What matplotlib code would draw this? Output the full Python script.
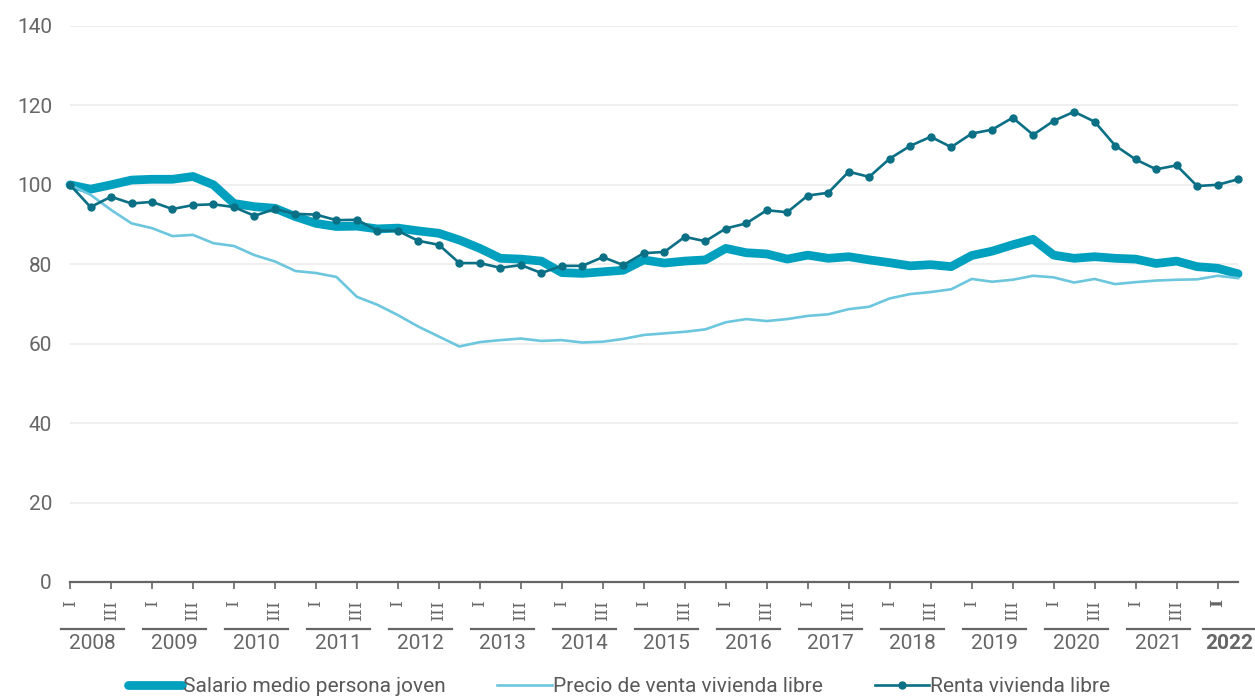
# %%
import matplotlib
matplotlib.use("Agg")
import matplotlib.pyplot as plt
import numpy as np

# quarterly series, 2008-I .. 2022-II (base 2008-I = 100)
years = list(range(2008, 2023))
quarter_labels = ["I", "III"]

salario = [100.0, 98.9, 100.0, 101.2, 101.4, 101.4, 102.1, 100.0, 95.3, 94.5,
           94.1, 92.0, 90.3, 89.5, 89.6, 88.9, 89.1, 88.4, 87.8, 86.1,
           84.0, 81.5, 81.3, 80.8, 77.9, 77.7, 78.1, 78.5, 81.1, 80.3,
           80.8, 81.1, 84.0, 82.9, 82.6, 81.3, 82.3, 81.5, 81.9, 81.1,
           80.4, 79.6, 79.9, 79.4, 82.2, 83.3, 84.9, 86.3, 82.3, 81.5,
           81.9, 81.5, 81.3, 80.2, 80.8, 79.4, 79.0, 77.6]

precio = [100.0, 97.5, 93.7, 90.3, 89.1, 87.1, 87.4, 85.3, 84.6, 82.3,
          80.7, 78.3, 77.8, 76.8, 71.8, 69.8, 67.2, 64.3, 61.8, 59.3,
          60.4, 60.9, 61.3, 60.7, 60.9, 60.3, 60.5, 61.2, 62.2, 62.6,
          63.0, 63.6, 65.4, 66.2, 65.7, 66.2, 67.0, 67.4, 68.7, 69.3,
          71.4, 72.5, 73.0, 73.7, 76.3, 75.6, 76.1, 77.1, 76.7, 75.4,
          76.3, 75.0, 75.5, 75.9, 76.1, 76.2, 77.1, 76.5]

renta = [100.0, 94.4, 97.0, 95.3, 95.7, 93.9, 94.9, 95.1, 94.4, 92.2,
         93.9, 92.7, 92.5, 91.1, 91.2, 88.5, 88.4, 85.9, 84.9, 80.3,
         80.3, 79.1, 79.8, 77.8, 79.6, 79.6, 81.8, 79.8, 82.8, 83.1,
         86.9, 85.8, 89.0, 90.3, 93.6, 93.1, 97.3, 98.0, 103.3, 102.0,
         106.6, 109.8, 112.1, 109.5, 112.9, 113.9, 116.9, 112.6, 116.1, 118.4,
         115.9, 109.9, 106.4, 103.9, 104.9, 99.7, 100.0, 101.4]

names = ["Salario medio persona joven", "Precio de venta vivienda libre",
         "Renta vivienda libre"]

# %%
plt.rcParams["font.family"] = ["Roboto", "DejaVu Sans"]
gray = "#666666"
fs = 15

fig = plt.figure(figsize=(12.55, 6.98), dpi=100)
ax = fig.add_axes([0.0558, 0.1662, 0.9307, 0.7966])

x = np.arange(len(salario))

ax.plot(x, salario, color="#00a0be", lw=6.3, solid_capstyle="round",
        solid_joinstyle="round", clip_on=False, label=names[0], zorder=3)
ax.plot(x, precio, color="#6cc6de", lw=1.9, solid_joinstyle="round",
        clip_on=False, label=names[1], zorder=4)
ax.plot(x, renta, color="#0b7085", lw=1.9, marker="o", ms=5,
        clip_on=False, label=names[2], zorder=5)

ax.set_xlim(0, 57)
ax.set_ylim(0, 140)
ax.set_yticks(range(0, 141, 20))
ax.yaxis.grid(True, color="#efefef", lw=1.5)
ax.set_axisbelow(True)

for s in ["left", "right", "top"]:
    ax.spines[s].set_visible(False)
ax.spines["bottom"].set_color(gray)
ax.spines["bottom"].set_linewidth(1.6)

ax.tick_params(axis="y", length=0, pad=13, labelsize=fs, labelcolor=gray)

# quarter ticks (I and III)
tickPos, tickLab = [], []
for k, yr in enumerate(years):
    for q, lab in zip([0, 2], quarter_labels):
        pos = k * 4 + q
        if pos <= 56:
            tickPos.append(pos)
            tickLab.append(lab)
ax.set_xticks(tickPos)
ax.set_xticklabels(tickLab, rotation=90, va="top", family="DejaVu Serif")
ax.tick_params(axis="x", length=5, width=1.2, color=gray, pad=7,
               labelsize=12.5, labelcolor=gray)
ax.get_xticklabels()[-1].set_fontweight("bold")

# year labels with underline
tr = ax.get_xaxis_transform()
for k, yr in enumerate(years):
    q1 = k * 4
    if yr == years[-1]:
        ax.plot([q1 - 0.7, q1 + 2.5], [-0.0845] * 2, color=gray, lw=1.6,
                transform=tr, clip_on=False)
        ax.text(q1 + 0.56, -0.1115, str(yr), transform=tr, ha="center",
                va="center", fontsize=fs, color=gray, fontweight="bold")
    else:
        c = q1 + 1.1
        ax.plot([c - 1.54, c + 1.54], [-0.0845] * 2, color=gray, lw=1.6,
                transform=tr, clip_on=False)
        ax.text(c, -0.1115, str(yr), transform=tr, ha="center",
                va="center", fontsize=fs, color=gray)

leg = fig.legend(loc="center", bbox_to_anchor=(0.493, 0.0158), ncol=3,
                 frameon=False, fontsize=fs, handlelength=2.6,
                 handletextpad=0.05, columnspacing=2.5)
for t in leg.get_texts():
    t.set_color("#595959")

fig.savefig("out.png", dpi=100)
